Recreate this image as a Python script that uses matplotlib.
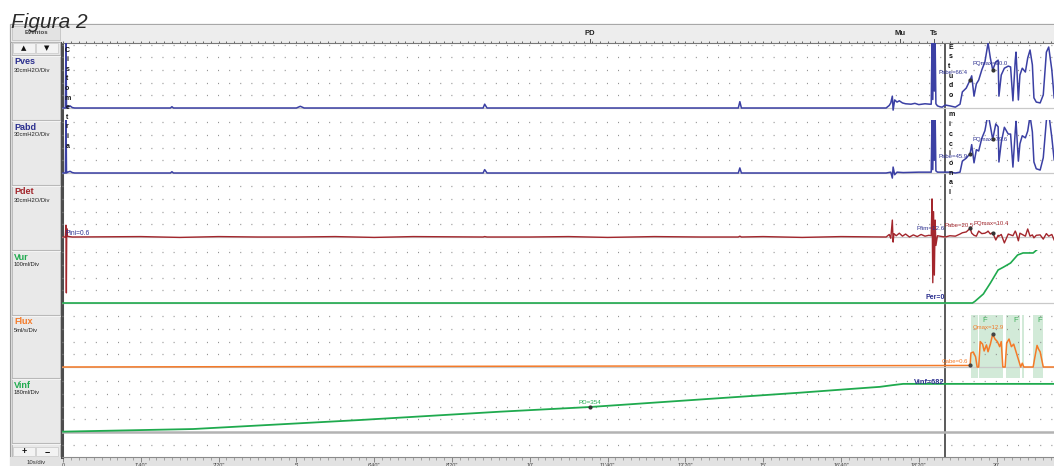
import matplotlib
matplotlib.use("Agg")
import matplotlib.pyplot as plt
from matplotlib.patches import Rectangle
from matplotlib.ticker import MultipleLocator, FuncFormatter

plt.rcParams['font.family'] = ['Liberation Sans', 'DejaVu Sans']
plt.rcParams['lines.scale_dashes'] = False

# ------------------------------------------------------------------
# Recorded channels (time in seconds)
# ------------------------------------------------------------------
pves_t = [0, 3, 3.8, 4.5, 6, 9, 12, 15, 138, 140, 142, 300, 305, 310, 540, 542, 545,
          868, 870, 872, 1058, 1062, 1064, 1066, 1067, 1069, 1072, 1075, 1079, 1083,
          1090, 1095, 1100, 1108, 1114, 1116, 1117, 1118, 1119, 1120, 1121, 1122, 1124,
          1127, 1130, 1134,
          1140, 1147, 1153, 1156, 1161, 1166, 1168, 1171, 1174, 1177, 1181, 1185, 1188,
          1189, 1192, 1195, 1199, 1202, 1203, 1206, 1210, 1215, 1218, 1221, 1224, 1225,
          1228, 1230, 1233, 1237, 1240, 1243, 1246, 1248, 1251, 1256, 1260, 1264, 1267,
          1271, 1274]
pves_v = [0, 0, 160, 0, 2, 5, 1, 0, 0, 3, 0, 0, 4, 0, 0, 9, 0,
          0, 15, 0, 0, 6, 12, 28, -5, 19, 14, 17, 12, 10,
          9, 11, 8, 10, 9, 9, 160, 20, 160, 40, 160, 10, 5,
          3, 2, 7,
          5, 2, 9, 38, 47, 66.4, 76, 28, 57, 66, 90, 109, 142,
          154, 118, 90.0, 109, 113, 28, 78, 94, 99, 97, 17, 113, 132,
          19, 78, 94, 85, 118, 137, 102, 24, 14, 12, 31, 132, 144,
          90, 24]

pabd_t = [0, 3, 3.8, 4.5, 6, 9, 12, 15, 138, 140, 142, 300, 540, 542, 545,
          868, 870, 872, 1058, 1064, 1066, 1067, 1069, 1072, 1080, 1100, 1114, 1116,
          1117, 1118, 1119, 1120, 1121, 1122, 1124, 1130, 1134,
          1140, 1147, 1153, 1156, 1161, 1166, 1168, 1171, 1174, 1177, 1181, 1185, 1188,
          1189, 1192, 1195, 1199, 1202, 1203, 1206, 1210, 1215, 1218, 1221, 1224, 1225,
          1228, 1230, 1233, 1237, 1240, 1243, 1246, 1248, 1251, 1256, 1260, 1264, 1267,
          1271, 1274]
pabd_v = [0, 0, 140, 0, 2, 4, 1, 0, 0, 3, 0, 0, 0, 8, 0,
          0, 12, 0, 0, 2, -12, 14, -4, 2, 1, 2, 2, 2,
          140, 8, 140, 30, 140, 5, 2, 2, 2,
          2, 0, 2, 28, 35, 45.9, 67, 24, 55, 52, 82, 100, 130,
          140, 111, 79.6, 116, 109, 26, 72, 108, 92, 92, 14, 99, 122,
          28, 69, 88, 83, 99, 135, 97, 26, 10, 7, 36, 124, 142,
          84, 31]

pdet_t = [0, 3, 3.8, 4.3, 4.8, 5.5, 8, 12, 100, 150, 200, 250, 300, 350, 400, 450,
          540, 542, 545, 600, 650, 700, 760, 820, 868, 870, 872, 900, 950, 1000,
          1058, 1062, 1064, 1066, 1067, 1068, 1071, 1075, 1079, 1083, 1088, 1093, 1098,
          1103, 1108, 1113, 1116, 1117, 1118, 1119, 1120, 1121, 1122, 1124, 1130, 1134,
          1140, 1147, 1153, 1156, 1161, 1166, 1168, 1171, 1174, 1177, 1181, 1185, 1188,
          1189, 1192, 1195, 1199, 1202, 1203, 1206, 1210, 1215, 1218, 1221, 1224, 1225,
          1228, 1230, 1233, 1237, 1240, 1243, 1246, 1248, 1251, 1256, 1260, 1264, 1267,
          1271, 1274]
pdet_v = [0, 0, 28, -132, 20, 2, 1, 0, 1, -1, 1, 0, 0, 1, -1, 1,
          0, 1, 0, 0, 1, -1, 1, 0, 0, 2, 0, 1, -1, 1,
          0, 6, -3, 40, -12, 8, 3, 9, 2, 7, 0, 5, 1,
          6, 2, 4, 3, 90, -108, 60, -90, 40, -20, 3, 1, 0,
          3, 2, 7, 10, 12, 20.5, 9, 4, 2, 14, 8, 9, 12,
          14, 7, 10.4, -7, 4, 2, 6, -14, 7, 5, 3, 14, 10,
          -9, 9, 6, 2, 19, 2, 5, -2, 4, 5, -5, 8, 2,
          6, -7]

vur_t = [0, 1169, 1172, 1183, 1192, 1202, 1209, 1218, 1227, 1234, 1247, 1256, 1274]
vur_v = [0, 0, 12, 71, 157, 260, 283, 315, 378, 394, 394, 441, 441]

flux_t = [0, 1166, 1167, 1170, 1173, 1175, 1177, 1179, 1182, 1184, 1187, 1189, 1192,
          1195, 1198, 1201, 1204, 1206, 1208, 1211, 1213, 1216, 1219, 1222, 1225, 1228,
          1231, 1233, 1235, 1247, 1249, 1252, 1254, 1256, 1258, 1260, 1274]
flux_v = [0, 0.6, 5.5, 5.9, 4, 0, 0, 10, 9, 6.3, 8.7, 6, 9,
          12.9, 11, 10, 8, 10, 0, 0, 9.5, 11, 8, 9, 6, 3,
          0, 1.5, 0, 0, 3.5, 8.5, 7, 6, 3, 0, 0]

vinf_t = [0, 167, 382, 562, 677, 947, 1011, 1050, 1067, 1080, 1274]
vinf_v = [5, 42, 170, 288, 354, 557, 609, 640, 665, 682, 682]

# flow segments marked on the Flux channel
flow_start = [1167, 1177, 1212, 1233, 1247]
flow_end = [1176, 1208, 1230, 1235, 1260]
flow_tag_t = [1185, 1225, 1256]

# event markers
event_names = ['PD', 'Mu', 'Ts']
event_times = [677, 1076, 1120]
cursor_t = 1134

# ------------------------------------------------------------------
BLUE = '#3b40a4'
TXTBLUE = '#2b2f8f'
RED = '#a3262c'
GREEN = '#1faa4e'
ORANGE = '#f47a28'

W, H = 1054, 466
T_MIN, T_MAX = -1.3, 1273.8
PX_DIV = 12.7

fig = plt.figure(figsize=(W / 100, H / 100), dpi=100)


def box(x0, y0, x1, y1):
    return [x0 / W, 1 - y1 / H, (x1 - x0) / W, (y1 - y0) / H]


# window chrome
chrome = fig.add_axes([0, 0, 1, 1], zorder=0)
chrome.set_xlim(0, W)
chrome.set_ylim(H, 0)
chrome.axis('off')
chrome.add_patch(Rectangle((10, 24), 1044, 442, fc='#dedede', ec='#9a9a9a', lw=0.8))
chrome.add_patch(Rectangle((10, 24), 1044, 18, fc='#ededed', ec='#a8a8a8', lw=0.8))
chrome.add_patch(Rectangle((12, 26), 48, 14, fc='#e3e3e3', ec='#c2c2c2', lw=0.6))
chrome.text(36, 33, 'Eventos', fontsize=4.3, fontweight='bold', color='#444',
            ha='center', va='center')
chrome.add_patch(Rectangle((12, 42), 48, 415, fc='#e9e9e9', ec='#b5b5b5', lw=0.6))
chrome.add_patch(Rectangle((13, 43), 22, 10, fc='#f3f3f3', ec='#c8c8c8', lw=0.5))
chrome.add_patch(Rectangle((36, 43), 22, 10, fc='#f3f3f3', ec='#c8c8c8', lw=0.5))
chrome.text(24, 48, '\u25b2', fontsize=5, ha='center', va='center', color='#111',
            family='DejaVu Sans')
chrome.text(47, 48, '\u25bc', fontsize=5, ha='center', va='center', color='#111',
            family='DejaVu Sans')
chrome.add_patch(Rectangle((13, 447), 22, 9, fc='#f3f3f3', ec='#c8c8c8', lw=0.5))
chrome.add_patch(Rectangle((36, 447), 22, 9, fc='#f3f3f3', ec='#c8c8c8', lw=0.5))
chrome.text(24, 451.5, '+', fontsize=6.5, fontweight='bold', ha='center', va='center',
            color='#111')
chrome.text(47, 451.5, '\u2212', fontsize=6.5, fontweight='bold', ha='center',
            va='center', color='#111')
chrome.add_patch(Rectangle((10, 457), 1044, 9, fc='#e2e2e2', ec='none'))
chrome.text(36, 463, '10s/div', fontsize=4.3, ha='center', va='center', color='#333')
for yy in [55, 120, 185, 250, 315, 378, 443]:
    chrome.plot([12, 60], [yy, yy], color='#b9b9b9', lw=0.8)
    chrome.plot([12, 60], [yy + 1, yy + 1], color='#f7f7f7', lw=0.6)

# plot frame with the time axis
frame = fig.add_axes(box(62, 43, 1054, 457), zorder=1)
frame.set_facecolor('white')
frame.set_xlim(T_MIN, T_MAX)
frame.set_ylim(457, 43)
frame.set_yticks([])
for side in ['top', 'right']:
    frame.spines[side].set_visible(False)
frame.spines['left'].set_linewidth(2.2)
frame.spines['left'].set_color('#4d4d4d')
frame.spines['bottom'].set_color('#8a8a8a')
frame.spines['bottom'].set_linewidth(0.8)
frame.xaxis.set_major_locator(MultipleLocator(100))
frame.xaxis.set_minor_locator(MultipleLocator(10))


def clock(t, pos):
    t = int(round(t))
    if t == 0:
        return '0'
    m, s = divmod(t, 60)
    return f"{m}'" if s == 0 else f"{m}'{s:02d}\""


frame.xaxis.set_major_formatter(FuncFormatter(clock))
frame.tick_params(axis='x', which='major', length=3.5, width=0.6, color='#777',
                  labelsize=4, pad=0.8, labelcolor='#444')
frame.tick_params(axis='x', which='minor', length=2, width=0.5, color='#888')
frame.axvline(cursor_t, color='#5a5a5a', lw=1.4, zorder=3)

# event header
head = fig.add_axes(box(62, 25, 1054, 43), zorder=1, sharex=frame)
head.set_facecolor('#ededed')
head.set_ylim(0, 1)
head.set_yticks([])
for side in ['top', 'right', 'left']:
    head.spines[side].set_visible(False)
head.spines['bottom'].set_color('#777')
head.tick_params(axis='x', which='both', direction='in', length=1.8, width=0.6,
                 color='#555', labelbottom=False)
for name, tt in zip(event_names, event_times):
    head.text(tt, 0.55, name, fontsize=5.5, fontweight='bold', ha='center',
              va='center', color='#222')
    head.plot([tt, tt], [0, 0.2], color='#555', lw=0.7)

# channel panels: name, unit, colour, top px, bottom px, zero px, units/div
channels = [
    ('Pves', '30cmH2O/Div', TXTBLUE, 43, 120, 108, 30),
    ('Pabd', '30cmH2O/Div', TXTBLUE, 120, 185, 173, 30),
    ('Pdet', '30cmH2O/Div', RED, 185, 250, 237, 30),
    ('Vur', '100ml/Div', GREEN, 250, 315, 303, 100),
    ('Flux', '5ml/s/Div', ORANGE, 315, 378, 367, 5),
    ('Vinf', '180ml/Div', GREEN, 378, 457, 432, 180),
]
label_rows = [55, 120, 185, 250, 315, 378]

axes = {}
for (name, unit, col, top, bot, zero, per_div), lrow in zip(channels, label_rows):
    ax = fig.add_axes(box(62, top, 1054, bot), zorder=2, sharex=frame)
    ax.set_facecolor('none')
    s = per_div / PX_DIV
    ylo, yhi = -(bot - zero) * s, (zero - top) * s
    ax.set_ylim(ylo, yhi)
    ax.axis('off')
    k = int(ylo // per_div)
    while k * per_div <= yhi:
        if k != 0 and ylo < k * per_div < yhi:
            ax.axhline(k * per_div, color='#8d8d8d', lw=0.9, ls=(0, (0.7, 7.3)))
        k += 1
    if name == 'Vinf':
        ax.axhline(0, color='#b3b3b3', lw=1.8)
    else:
        ax.axhline(0, color='#c9c9c9', lw=0.9)
    chrome.text(14, lrow + 7, name, fontsize=6.5, fontweight='bold', color=col,
                ha='left', va='center')
    chrome.text(14, lrow + 15, unit, fontsize=4.2, color='#222', ha='left',
                va='center')
    axes[name] = ax

# traces
ax = axes['Pves']
ax.plot(pves_t, pves_v, color=BLUE, lw=1.1)
ax.plot([1166, 1195], [66.4, 90.0], 'o', color='#333', ms=2, zorder=4)
ax.text(1163, 85, 'Pabe=66.4', fontsize=4.3, color=TXTBLUE, ha='right', va='center')
ax.text(1169, 106, 'PQmax=90.0', fontsize=4.3, color=TXTBLUE, ha='left', va='center')

ax = axes['Pabd']
ax.plot(pabd_t, pabd_v, color=BLUE, lw=1.1)
ax.plot([1166, 1195], [45.9, 79.6], 'o', color='#333', ms=2, zorder=4)
ax.text(1163, 38, 'Pabe=45.9', fontsize=4.3, color=TXTBLUE, ha='right', va='center')
ax.text(1169, 80, 'PQmax=79.6', fontsize=4.3, color=TXTBLUE, ha='left', va='center')

ax = axes['Pdet']
ax.plot(pdet_t, pdet_v, color=RED, lw=1.0, clip_on=False)
ax.plot([1166, 1195], [20.5, 10.4], 'o', color='#333', ms=2, zorder=4)
ax.text(3, 9, 'Pini=0.6', fontsize=4.8, color=TXTBLUE, ha='left', va='center')
ax.text(1133, 21, 'Pfim=12.6', fontsize=4.5, color=TXTBLUE, ha='right', va='center')
ax.text(1133, 26, 'Pabe=20.5', fontsize=4.3, color=RED, ha='left', va='center')
ax.text(1170, 31, 'PQmax=10.4', fontsize=4.3, color=RED, ha='left', va='center')

ax = axes['Vur']
ax.plot(vur_t, vur_v, color=GREEN, lw=1.2)
ax.text(1133, 47, 'Per=0', fontsize=5, fontweight='bold', color=TXTBLUE, ha='right',
        va='center')

ax = axes['Flux']
for a, b in zip(flow_start, flow_end):
    ax.axvspan(a, b, color='#cde8d4', alpha=0.9, lw=0, zorder=0)
for tt in flow_tag_t:
    ax.text(tt, 18.5, 'F', fontsize=5.5, color='#3fae5a', ha='center', va='center')
ax.plot(flux_t, flux_v, color=ORANGE, lw=1.1)
ax.plot([1166, 1195], [0.6, 12.9], 'o', color='#444', ms=2, zorder=4)
ax.text(1164, 2, 'Qabe=0.6', fontsize=4.3, color=ORANGE, ha='right', va='center')
ax.text(1170, 15.7, 'Qmax=12.9', fontsize=4.3, color=ORANGE, ha='left', va='center')

ax = axes['Vinf']
ax.plot(vinf_t, vinf_v, color=GREEN, lw=1.3)
ax.plot([677], [354], 'o', color='#333', ms=2, zorder=4)
ax.text(677, 420, 'PD=354', fontsize=4.5, color=GREEN, ha='center', va='center')
ax.text(1133, 700, 'Vinf=682', fontsize=5.3, fontweight='bold', color=TXTBLUE,
        ha='right', va='center')

# phase annotations written vertically, above the traces
phase = fig.add_axes(box(62, 43, 1054, 457), zorder=3, sharex=frame)
phase.set_facecolor('none')
phase.set_ylim(457, 43)
phase.axis('off')
for k, ch in enumerate('Cistometria'):
    phase.text(5.5, 50 + 9.6 * k, ch, fontsize=5, fontweight='bold', ha='center',
               va='center', color='#111')
for k, ch in enumerate('Estudo miccional'):
    phase.text(1138, 47 + 9.7 * k, ch, fontsize=5, fontweight='bold', ha='left',
               va='center', color='#111')

# figure caption
fig.text(11 / W, 1 - 28 / H, 'Figura 2', fontsize=15, fontstyle='italic',
         color='#2a2a2a', ha='left', va='baseline', zorder=10)

fig.savefig('out.png', dpi=100)
